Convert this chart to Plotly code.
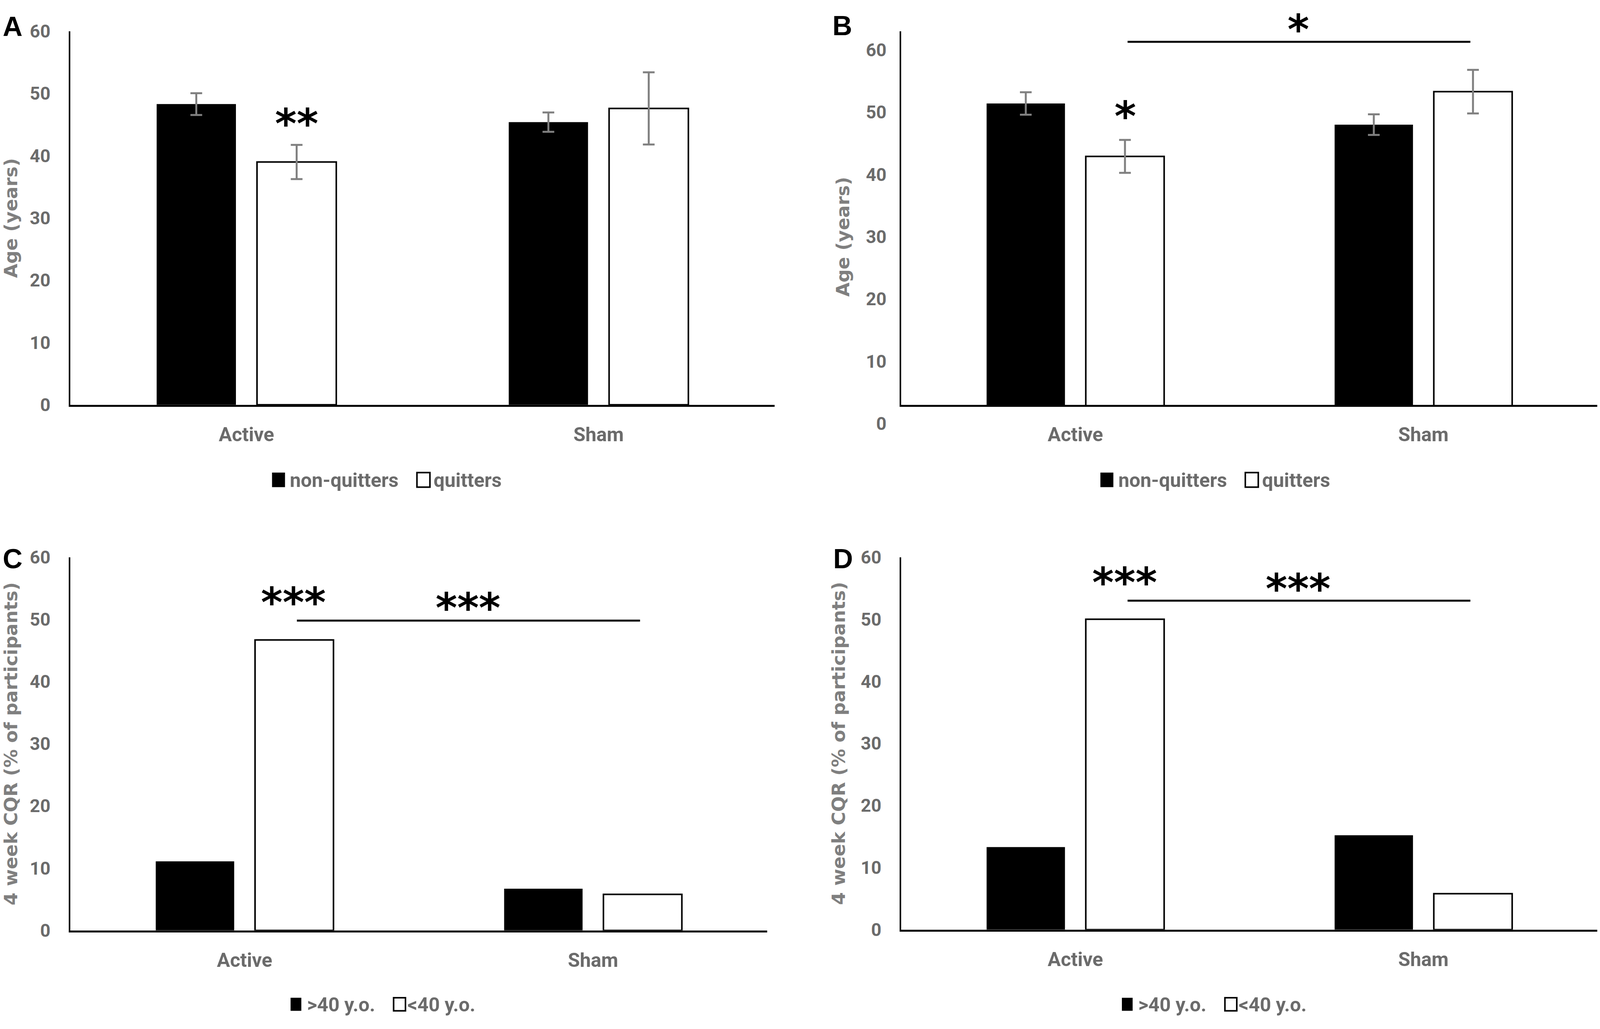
import plotly.graph_objects as go

# ---------------- data ----------------
categories = ["Active", "Sham"]
y_ticks = [0, 10, 20, 30, 40, 50, 60]

a_nonquitters = [48.3, 45.4]
a_nonquitters_err = [1.75, 1.55]
a_quitters = [39.0, 47.6]
a_quitters_err = [2.75, 5.8]

b_nonquitters = [51.4, 48.0]
b_nonquitters_err = [1.8, 1.65]
b_quitters = [42.9, 53.3]
b_quitters_err = [2.65, 3.5]

c_over40 = [11.1, 6.7]
c_under40 = [46.7, 5.8]

d_over40 = [13.3, 15.2]
d_under40 = [50.0, 5.8]

series_names_ab = ["non-quitters", "quitters"]
series_names_cd = [">40 y.o.", "<40 y.o."]
panel_letters = ["A", "B", "C", "D"]
age_title = "Age (years)"
cqr_title = "4 week CQR (% of participants)"

# ---------------- geometry helpers (reference pixel frame) ----------------
W, H = 4317, 2633


def px(x):
    return x / W


def py(y):
    return 1 - y / H


GRAY = "#6b6b6b"
TITLE_GRAY = "#7f7f7f"
ERR_GRAY = "#808080"
tick_font = dict(family="Roboto", size=46, color=GRAY, weight="bold")
cat_font = dict(family="Roboto", size=50, color=GRAY, weight="bold")
legend_font = dict(family="Roboto", size=50, color=GRAY, weight="bold")
title_font = dict(family="DejaVu Sans", size=47, color=TITLE_GRAY, weight="bold")
star_font = dict(family="DejaVu Sans", size=106, color="black", weight="bold")
letter_font = dict(family="Liberation Sans", size=70, color="black", weight="bold")

fig = go.Figure()


def add_bars(values, fill, xa, ya, err=None, name=None):
    kw = {}
    if err is not None:
        kw["error_y"] = dict(type="data", array=err, visible=True, color=ERR_GRAY,
                             thickness=5, width=15)
    fig.add_trace(go.Bar(
        x=categories, y=values, name=name,
        marker=dict(color=fill, line=dict(color="black", width=4 if fill == "white" else 0)),
        xaxis=xa, yaxis=ya, showlegend=False, **kw))


add_bars(a_nonquitters, "black", "x", "y", a_nonquitters_err, series_names_ab[0])
add_bars(a_quitters, "white", "x", "y", a_quitters_err, series_names_ab[1])
add_bars(b_nonquitters, "black", "x2", "y2", b_nonquitters_err, series_names_ab[0])
add_bars(b_quitters, "white", "x2", "y2", b_quitters_err, series_names_ab[1])
add_bars(c_over40, "black", "x3", "y3", None, series_names_cd[0])
add_bars(c_under40, "white", "x3", "y3", None, series_names_cd[1])
add_bars(d_over40, "black", "x4", "y4", None, series_names_cd[0])
add_bars(d_under40, "white", "x4", "y4", None, series_names_cd[1])

# invisible trace so the (shifted) label axis of panel B exists
fig.add_trace(go.Scatter(x=categories, y=[None, None], xaxis="x2", yaxis="y5",
                         mode="markers", showlegend=False, hoverinfo="skip"))


def xaxis_cfg(x0, x1, anchor):
    return dict(domain=[px(x0), px(x1)], anchor=anchor, type="category",
                showline=True, linecolor="black", linewidth=5, ticks="",
                showgrid=False, zeroline=False, tickfont=cat_font,
                ticklabelstandoff=28)


def yaxis_cfg(ytop, ybot, anchor, rng, title=None, labels=True, line=True):
    d = dict(domain=[py(ybot), py(ytop)], anchor=anchor, range=rng,
             tickmode="array", tickvals=y_ticks, showticklabels=labels,
             showline=line, linecolor="black", linewidth=4, ticks="",
             showgrid=False, zeroline=False, tickfont=tick_font,
             ticklabelstandoff=38)
    if title:
        d["title"] = dict(text=title, font=title_font, standoff=26)
    return d


fig.update_layout(
    width=W, height=H,
    margin=dict(l=0, r=0, t=0, b=0),
    paper_bgcolor="white", plot_bgcolor="rgba(0,0,0,0)",
    barmode="group", bargap=0.43, bargroupgap=0.21,
    showlegend=False,
    xaxis=xaxis_cfg(190, 2090, "y"),
    yaxis=yaxis_cfg(54, 1030, "x", [0, 60], age_title),
    xaxis2=xaxis_cfg(2432, 4310, "y2"),
    yaxis2=yaxis_cfg(54, 1030, "x2", [3, 63], None, labels=False),
    yaxis5=dict(domain=[py(1079), py(103)], anchor="free", position=px(2432),
                range=[0, 60], tickmode="array", tickvals=y_ticks,
                showline=False, ticks="", showgrid=False, zeroline=False,
                tickfont=tick_font, ticklabelstandoff=38,
                title=dict(text=age_title, font=title_font, standoff=26)),
    xaxis3=xaxis_cfg(190, 2070, "y3"),
    yaxis3=yaxis_cfg(1428, 2403, "x3", [0, 60], cqr_title),
    xaxis4=xaxis_cfg(2432, 4310, "y4"),
    yaxis4=yaxis_cfg(1428, 2401, "x4", [0, 60], cqr_title),
)

# significance brackets
for xr, yr, yv in [("x2", "y2", 61.3), ("x3", "y3", 49.8), ("x4", "y4", 53.0)]:
    fig.add_shape(type="line", xref=xr, yref=yr, x0=0.15, x1=1.135, y0=yv, y1=yv,
                  line=dict(color="black", width=5))

STAR_SHIFT = -17
stars = [
    ("x", "y", 0.143, 46.2, "**", 0),
    ("x2", "y2", 0.143, 49.8, "*", 10),
    ("x2", "y2", 0.64, 61.3, "*", 48),
    ("x3", "y3", 0.14, 53.8, "***", 0),
    ("x3", "y3", 0.641, 52.9, "***", 0),
    ("x4", "y4", 0.142, 57.0, "***", 0),
    ("x4", "y4", 0.64, 56.0, "***", 0),
]
for xr, yr, xv, yv, txt, extra in stars:
    fig.add_annotation(xref=xr, yref=yr, x=xv, y=yv, text=txt, showarrow=False,
                       font=star_font, xanchor="center", yanchor="middle",
                       yshift=STAR_SHIFT + extra)

# panel letters
for letter, (lx, ly) in zip(panel_letters, [(34, 42), (2273, 40), (34, 1432), (2275, 1432)]):
    fig.add_annotation(xref="paper", yref="paper", x=px(lx), y=py(ly), text=letter,
                       showarrow=False, font=letter_font, xanchor="center", yanchor="middle")


# legends (drawn as shapes + text)
def legend(names, dx, sq1, sq2, t1x, t2x, yc):
    (bx0, by0, bx1, by1) = sq1
    (wx0, wy0, wx1, wy1) = sq2
    fig.add_shape(type="rect", xref="paper", yref="paper",
                  x0=px(bx0 + dx), x1=px(bx1 + dx), y0=py(by1), y1=py(by0),
                  fillcolor="black", line=dict(width=0))
    fig.add_shape(type="rect", xref="paper", yref="paper",
                  x0=px(wx0 + dx), x1=px(wx1 + dx), y0=py(wy1), y1=py(wy0),
                  fillcolor="white", line=dict(color="black", width=4))
    for name, tx in zip(names, [t1x, t2x]):
        fig.add_annotation(xref="paper", yref="paper", x=px(tx + dx), y=py(yc),
                           text=name, showarrow=False, font=legend_font,
                           xanchor="left", yanchor="middle")


legend(series_names_ab, 0, (734, 1207, 769, 1245), (1125, 1207, 1160, 1245), 780, 1168, 1227)
legend(series_names_ab, 2235, (734, 1207, 769, 1245), (1125, 1207, 1160, 1245), 780, 1168, 1227)
legend(series_names_cd, 0, (784, 2579, 813, 2613), (1062, 2579, 1094, 2613), 826, 1097, 2597)
legend(series_names_cd, 2243, (784, 2579, 813, 2613), (1062, 2579, 1094, 2613), 826, 1097, 2597)

# fit the figure to the actual browser viewport (all positions are fractions)
fit_js = """
(function(){
  var gd = document.getElementById('{plot_id}');
  var de = document.documentElement, b = document.body;
  de.style.margin = '0'; de.style.padding = '0';
  b.style.margin = '0'; b.style.padding = '0';
  de.style.overflow = 'hidden'; b.style.overflow = 'hidden';
  var cw = de.clientWidth, ch = de.clientHeight;
  if (cw > 0 && ch > 0 && (cw !== %d || ch !== %d)) {
    gd.style.width = cw + 'px';
    gd.style.height = ch + 'px';
    Plotly.relayout(gd, {width: cw, height: ch});
  }
})();
""" % (W, H)

fig.write_html("out.html", post_script=fit_js, config={"displayModeBar": False})
